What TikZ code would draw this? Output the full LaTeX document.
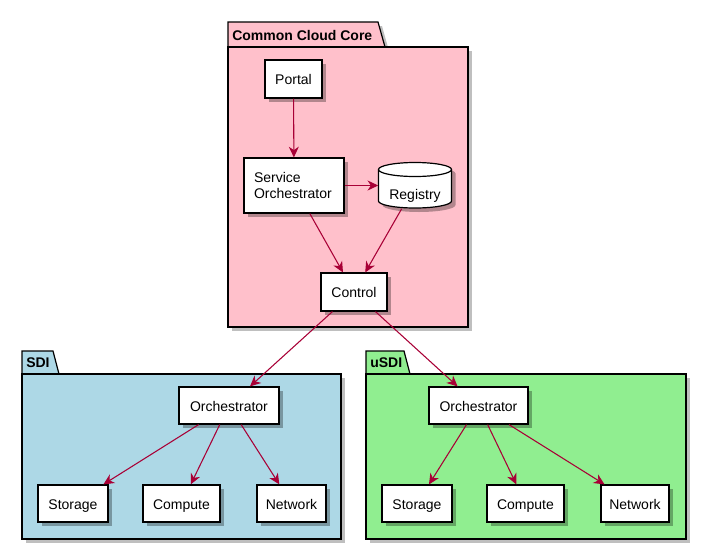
\documentclass[tikz,border=0pt]{standalone}
\usepackage{fontspec}
\setmainfont{Liberation Sans}
\usetikzlibrary{arrows.meta,shadows}
\definecolor{pkgpink}{HTML}{FFC0CB}
\definecolor{pkgblue}{HTML}{ADD8E6}
\definecolor{pkggreen}{HTML}{90EE90}
\definecolor{arrowred}{HTML}{A80036}
\begin{document}
\begin{tikzpicture}[x=0.75pt,y=-0.75pt,
  comp/.style={draw=black,fill=white,line width=0.9pt,inner sep=0pt,
    minimum height=#1*0.75pt,font=\fontsize{10.5}{12.5}\selectfont,
    text height=9.5pt,text depth=1pt,
    drop shadow={shadow xshift=3pt,shadow yshift=-3pt,fill=black,opacity=0.3}},
  comp/.default=37,
  pkgline/.style={draw=black,line width=0.9pt},
  pkgshadow/.style={fill=black,opacity=0.25},
  title/.style={font=\bfseries\fontsize{10.5}{12.5}\selectfont,anchor=west,inner sep=0pt},
  conn/.style={draw=arrowred,line width=0.8pt,-{Stealth[length=8pt,width=7.5pt,inset=2.5pt]}}]
\useasboundingbox (0,0) rectangle (707,550);

% ---------- Common Cloud Core package
\fill[pkgshadow] (232,51) rectangle (472,331);
\fill[pkgshadow] (232,51) -- (232,26) -- (382,26) -- (389,51) -- cycle;
\path[pkgline,fill=pkgpink] (228,47) -- (228,22) -- (378,22) -- (385,47) -- cycle;
\path[pkgline,fill=pkgpink] (228,47) rectangle (468,327);
\node[title] (ccc) at (232,35.5) {Common Cloud Core};

% ---------- SDI package
\fill[pkgshadow] (26,378) rectangle (345,543);
\path[pkgline,fill=pkgblue] (22,374) -- (22,351) -- (53,351) -- (59,374) -- cycle;
\path[pkgline,fill=pkgblue] (22,374) rectangle (341,539);
\node[title] (sdi) at (26,362.5) {SDI};

% ---------- uSDI package
\fill[pkgshadow] (370,378) rectangle (690,543);
\path[pkgline,fill=pkggreen] (366,374) -- (366,351) -- (404,351) -- (410,374) -- cycle;
\path[pkgline,fill=pkggreen] (366,374) rectangle (686,539);
\node[title] (usdi) at (370,362.5) {uSDI};

% ---------- core components
\node[comp=38,minimum width=57*0.75pt] (portal) at (293.5,79) {Portal};
\node[comp=55,minimum width=100*0.75pt,align=left,text width=80*0.75pt,text height=,text depth=] (so) at (294,185.5) {Service\\Orchestrator};
\node[comp=38,minimum width=66*0.75pt] (control) at (354,292) {Control};

% Registry (database cylinder)
\node[inner sep=0pt,minimum width=73*0.75pt,minimum height=46*0.75pt] (registry) at (415,185.5) {};
\fill[black,opacity=0.3] (382.5,173.5) -- (382.5,205) arc[start angle=180,end angle=0,x radius=36.5,y radius=7] -- (455.5,173.5) arc[start angle=0,end angle=-180,x radius=36.5,y radius=7] -- cycle;
\path[draw=black,fill=white,line width=0.9pt] (378.5,169.5) -- (378.5,201) arc[start angle=180,end angle=0,x radius=36.5,y radius=7] -- (451.5,169.5) arc[start angle=0,end angle=-180,x radius=36.5,y radius=7] -- cycle;
\draw[line width=0.9pt] (378.5,169.5) arc[start angle=180,end angle=0,x radius=36.5,y radius=7];
\node[inner sep=0pt,font=\fontsize{10.5}{12.5}\selectfont] (regtext) at (415,196) {Registry};

% ---------- SDI components
\node[comp,minimum width=100*0.75pt] (sorch) at (229,405.5) {Orchestrator};
\node[comp,minimum width=70*0.75pt] (sstor) at (73,503.5) {Storage};
\node[comp,minimum width=77*0.75pt] (scomp) at (181.5,503.5) {Compute};
\node[comp,minimum width=69*0.75pt] (snet) at (291.5,503.5) {Network};

% ---------- uSDI components
\node[comp,minimum width=99*0.75pt] (uorch) at (478.5,405.5) {Orchestrator};
\node[comp,minimum width=70*0.75pt] (ustor) at (417,503.5) {Storage};
\node[comp,minimum width=77*0.75pt] (ucomp) at (525.5,503.5) {Compute};
\node[comp,minimum width=68*0.75pt] (unet) at (635,503.5) {Network};

% ---------- connectors
\draw[conn] (portal) -- (so);
\draw[conn] (so.east) -- (registry.west);
\draw[conn] (so) -- (control);
\draw[conn] (registry) -- (control);
\draw[conn] (control) -- (sorch);
\draw[conn] (control) -- (uorch);
\draw[conn] (sorch) -- (sstor);
\draw[conn] (sorch) -- (scomp);
\draw[conn] (sorch) -- (snet);
\draw[conn] (uorch) -- (ustor);
\draw[conn] (uorch) -- (ucomp);
\draw[conn] (uorch) -- (unet);
\end{tikzpicture}
\end{document}
